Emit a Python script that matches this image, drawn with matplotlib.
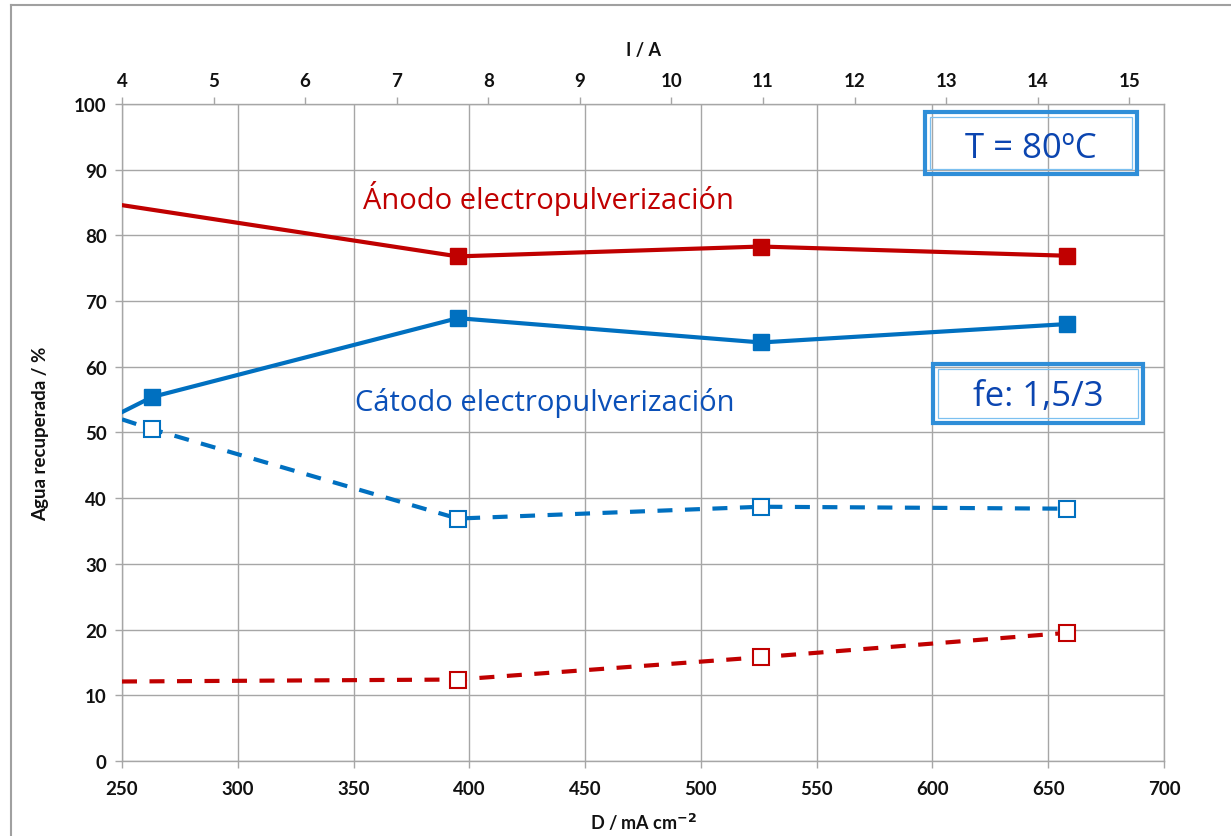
import matplotlib
matplotlib.use("Agg")
import matplotlib.pyplot as plt
from matplotlib.patches import Rectangle
from matplotlib.lines import Line2D

# ---- data ----
d_red = [250, 395, 526, 658]
anodo_solid = [84.6, 76.8, 78.3, 76.9]
anodo_dashed = [12.1, 12.4, 15.8, 19.5]

d_blue = [250, 263, 395, 526, 658]
catodo_solid = [53.1, 55.4, 67.4, 63.7, 66.5]
catodo_dashed = [52.0, 50.5, 36.9, 38.7, 38.4]

x_ticks = [250, 300, 350, 400, 450, 500, 550, 600, 650, 700]
y_ticks = [0, 10, 20, 30, 40, 50, 60, 70, 80, 90, 100]
i_ticks = [4, 5, 6, 7, 8, 9, 10, 11, 12, 13, 14, 15]

RED = "#C00000"
BLUE = "#0070C0"
GRID = "#A6A6A6"
TICKFONT = "Lato"

fig = plt.figure(figsize=(12.31, 8.37), dpi=100)
ax = fig.add_axes([0.0991, 0.0896, 0.8465, 0.7850])

ax.set_xlim(250, 700)
ax.set_ylim(0, 100)
ax.set_xticks(x_ticks)
ax.set_yticks(y_ticks)
ax.grid(True, color=GRID, lw=1.0, zorder=0)
for s in ax.spines.values():
    s.set_color(GRID)
    s.set_linewidth(1.0)
ax.tick_params(axis="both", colors=GRID, length=5, width=1.0, labelcolor="#111111",
               labelsize=13.5, pad=6)
ax.tick_params(axis="x", pad=9)
for lab in ax.get_xticklabels() + ax.get_yticklabels():
    lab.set_fontfamily(TICKFONT)
    lab.set_fontweight("bold")

lw = 3.0
ms_f = 11.5
ms_o = 11.0
ax.plot(d_red, anodo_solid, color=RED, lw=lw, marker="s", ms=ms_f, markevery=[1, 2, 3],
        mfc=RED, mec=RED, zorder=4)
ax.plot(d_blue, catodo_solid, color=BLUE, lw=lw, marker="s", ms=ms_f, markevery=[1, 2, 3, 4],
        mfc=BLUE, mec=BLUE, zorder=4)
ax.plot(d_red, anodo_dashed, color=RED, lw=lw, ls=(0, (3.6, 3.0)), marker="s", ms=ms_o,
        markevery=[1, 2, 3], mfc="white", mec=RED, mew=1.5, zorder=4)
ax.plot(d_blue, catodo_dashed, color=BLUE, lw=lw, ls=(0, (3.6, 3.0)), marker="s", ms=ms_o,
        markevery=[1, 2, 3, 4], mfc="white", mec=BLUE, mew=1.5, zorder=4)

ax.set_xlabel("D / mA cm$^{\\mathbf{-2}}$", fontfamily=TICKFONT, fontweight="bold",
              fontsize=13, color="#111111", labelpad=10)
ax.set_ylabel("Agua recuperada / %", fontfamily=TICKFONT, fontweight="bold",
              fontsize=13.5, color="#111111", labelpad=18)

# top axis
ax2 = ax.twiny()
ax2.set_xlim(4, 15.38)
ax2.set_xticks(i_ticks)
for s in ax2.spines.values():
    s.set_visible(False)
ax2.tick_params(axis="x", colors=GRID, length=5, width=1.0, labelcolor="#111111",
                labelsize=13.5, pad=6)
for lab in ax2.get_xticklabels():
    lab.set_fontfamily(TICKFONT)
    lab.set_fontweight("bold")
ax2.set_xlabel("I / A", fontfamily=TICKFONT, fontweight="bold", fontsize=13,
               color="#111111", labelpad=12)

# annotations
ax.text(0.409, 0.863, "Ánodo electropulverización", transform=ax.transAxes,
        ha="center", va="center_baseline", color=RED, fontsize=21, fontweight="medium",
        fontfamily="Open Sans", zorder=6)
ax.text(0.406, 0.551, "Cátodo electropulverización", transform=ax.transAxes,
        ha="center", va="center_baseline", color="#0B50B8", fontsize=21, fontweight="medium",
        fontfamily="Open Sans", zorder=6)

def box(x0, y0, x1, y1, txt, tx, ty):
    ax.add_patch(Rectangle((x0, y0), x1 - x0, y1 - y0, transform=ax.transAxes,
                           fill=False, ec="#2F8ED8", lw=3.0, zorder=6, clip_on=False))
    ax.add_patch(Rectangle((x0 + 0.005, y0 + 0.008), x1 - x0 - 0.010, y1 - y0 - 0.016,
                           transform=ax.transAxes, fill=False, ec="#7CC0F0", lw=0.9,
                           zorder=6, clip_on=False))
    ax.text(tx, ty, txt, transform=ax.transAxes, ha="center", va="center_baseline",
            color="#0B45B0", fontsize=25, fontweight="medium", fontfamily="Open Sans", zorder=7)

box(0.7706, 0.8935, 0.974, 0.9878, "T = 80ºC", 0.872, 0.939)
box(0.778, 0.5145, 0.980, 0.604, "fe: 1,5/3", 0.879, 0.561)

# outer frame
fig.add_artist(Line2D([11 / 1231, 1.0], [1 - 6 / 837, 1 - 6 / 837], color="#A0A0A0", lw=1.5))
fig.add_artist(Line2D([11 / 1231, 11 / 1231], [0.0, 1 - 6 / 837], color="#A0A0A0", lw=1.5))

fig.savefig("out.png", dpi=100)
